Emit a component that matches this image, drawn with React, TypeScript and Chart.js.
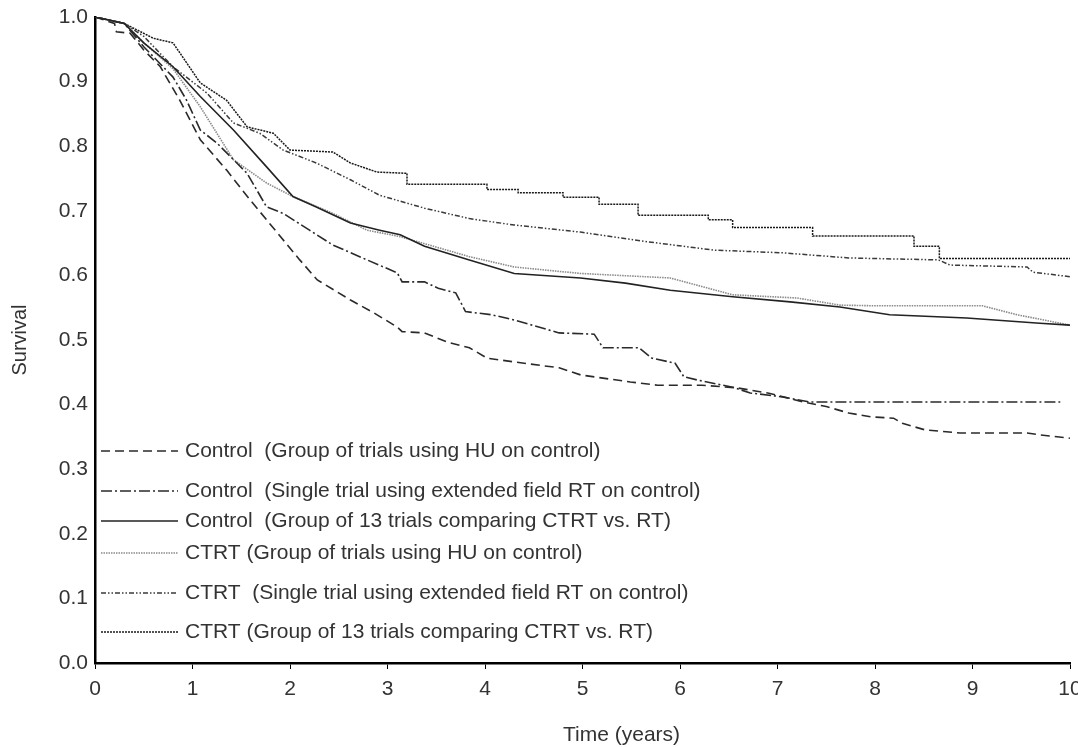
import React, { useEffect, useRef } from "react";
import { Chart, registerables } from "chart.js";

Chart.register(...registerables);

// ---- Data ----
const seriesLabels = [
  "Control  (Group of trials using HU on control)",
  "Control  (Single trial using extended field RT on control)",
  "Control  (Group of 13 trials comparing CTRT vs. RT)",
  "CTRT (Group of trials using HU on control)",
  "CTRT  (Single trial using extended field RT on control)",
  "CTRT (Group of 13 trials comparing CTRT vs. RT)",
];

const ctrlHuTime = [0, 0.2, 0.22, 0.36, 0.5, 0.67, 0.87, 1.08, 1.35, 1.59, 1.87, 2.1, 2.28, 2.62, 2.86, 3.1, 3.15, 3.38, 3.61, 3.84, 4.02, 4.3, 4.76, 4.98, 5.21, 5.49, 5.77, 6.22, 6.58, 6.9, 7.27, 7.5, 7.73, 7.96, 8.19, 8.28, 8.51, 8.87, 9.56, 9.7, 10];
const ctrlHuSurv = [1.0, 0.99, 0.977, 0.975, 0.949, 0.923, 0.871, 0.81, 0.763, 0.717, 0.666, 0.624, 0.593, 0.562, 0.542, 0.52, 0.513, 0.511, 0.497, 0.488, 0.472, 0.466, 0.457, 0.446, 0.441, 0.435, 0.43, 0.43, 0.426, 0.418, 0.404, 0.397, 0.387, 0.381, 0.379, 0.371, 0.361, 0.356, 0.356, 0.353, 0.348];

const ctrlSingleTime = [0, 0.3, 0.5, 0.8, 0.94, 1.08, 1.25, 1.56, 1.76, 1.93, 2.2, 2.44, 2.79, 3.1, 3.15, 3.38, 3.52, 3.7, 3.8, 4.07, 4.3, 4.76, 5.12, 5.21, 5.58, 5.71, 5.95, 6.04, 6.18, 6.54, 6.72, 7.05, 7.33, 9.9];
const ctrlSingleSurv = [1.0, 0.99, 0.954, 0.907, 0.871, 0.825, 0.805, 0.758, 0.706, 0.696, 0.67, 0.647, 0.624, 0.604, 0.59, 0.59, 0.58, 0.573, 0.544, 0.539, 0.531, 0.511, 0.509, 0.488, 0.488, 0.472, 0.464, 0.443, 0.438, 0.427, 0.418, 0.412, 0.404, 0.404];

const ctrl13Time = [0, 0.3, 0.5, 0.8, 1.08, 1.42, 1.76, 2.03, 2.27, 2.62, 2.92, 3.13, 3.38, 3.84, 4.3, 4.98, 5.44, 5.9, 6.54, 7.13, 7.64, 8.15, 8.94, 9.69, 10];
const ctrl13Surv = [1.0, 0.99, 0.96, 0.923, 0.877, 0.825, 0.768, 0.722, 0.706, 0.681, 0.67, 0.663, 0.645, 0.624, 0.603, 0.596, 0.588, 0.577, 0.567, 0.559, 0.551, 0.539, 0.534, 0.526, 0.523];

const ctrtHuTime = [0, 0.3, 0.5, 0.8, 1.08, 1.25, 1.42, 1.76, 2.03, 2.44, 2.79, 3.13, 3.84, 4.3, 4.98, 5.9, 6.54, 7.2, 7.64, 7.98, 9.1, 9.46, 10];
const ctrtHuSurv = [1.0, 0.99, 0.96, 0.92, 0.861, 0.82, 0.779, 0.743, 0.722, 0.696, 0.67, 0.66, 0.629, 0.613, 0.603, 0.596, 0.57, 0.565, 0.554, 0.553, 0.553, 0.539, 0.523];

const ctrtSingleTime = [0, 0.3, 0.5, 0.8, 1.15, 1.42, 1.69, 1.93, 2.27, 2.62, 2.92, 3.38, 3.84, 4.3, 4.98, 5.67, 6.36, 7.05, 7.73, 8.65, 8.77, 9.56, 9.62, 10];
const ctrtSingleSurv = [1.0, 0.99, 0.97, 0.923, 0.882, 0.836, 0.82, 0.794, 0.774, 0.748, 0.724, 0.704, 0.688, 0.678, 0.667, 0.652, 0.639, 0.635, 0.627, 0.624, 0.616, 0.613, 0.605, 0.598];

const ctrt13Time = [0, 0.3, 0.6, 0.8, 1.08, 1.35, 1.56, 1.83, 2.0, 2.44, 2.62, 2.89, 3.2, 3.2, 4.02, 4.02, 4.34, 4.34, 4.8, 4.8, 5.17, 5.17, 5.57, 5.57, 6.29, 6.29, 6.54, 6.54, 7.36, 7.36, 8.4, 8.4, 8.66, 8.66, 10];
const ctrt13Surv = [1.0, 0.99, 0.967, 0.96, 0.898, 0.871, 0.83, 0.82, 0.794, 0.791, 0.774, 0.76, 0.758, 0.741, 0.741, 0.733, 0.733, 0.728, 0.728, 0.721, 0.721, 0.71, 0.71, 0.693, 0.693, 0.686, 0.686, 0.674, 0.674, 0.661, 0.661, 0.645, 0.645, 0.626, 0.626];

const xTicks = [0, 1, 2, 3, 4, 5, 6, 7, 8, 9, 10];
const yTicks = [0, 0.1, 0.2, 0.3, 0.4, 0.5, 0.6, 0.7, 0.8, 0.9, 1.0];
const xTitle = "Time (years)";
const yTitle = "Survival";

// ---- Styling ----
const lineColors = ["#2a2a2a", "#2a2a2a", "#222222", "#8a8a8a", "#3a3a3a", "#1a1a1a"];
const lineDashes: number[][] = [[9, 5], [11, 3, 2, 3], [], [1.5, 1], [5, 2, 1.5, 2, 1.5, 2], [2, 1]];
const lineWidths = [1.6, 1.6, 1.6, 1.6, 1.5, 1.5];
const legendRowsY = [451, 491, 521, 553, 593, 632];

const TEXT = "#333333";
const FONT_FAMILY = "'Liberation Sans', Arial, sans-serif";
const FONT_SIZE = 21;

function toPoints(t: number[], s: number[]) {
  return t.map((x, i) => ({ x, y: s[i] }));
}

const legendPlugin = {
  id: "kmLegend",
  afterDatasetsDraw(chart: any) {
    const ctx = chart.ctx as CanvasRenderingContext2D;
    ctx.save();
    seriesLabels.forEach((label, i) => {
      const y = legendRowsY[i];
      ctx.beginPath();
      ctx.setLineDash(lineDashes[i]);
      ctx.strokeStyle = lineColors[i];
      ctx.lineWidth = lineWidths[i];
      ctx.moveTo(101, y);
      ctx.lineTo(178, y);
      ctx.stroke();
      ctx.setLineDash([]);
      ctx.fillStyle = TEXT;
      ctx.font = `${FONT_SIZE}px ${FONT_FAMILY}`;
      ctx.textBaseline = "middle";
      ctx.textAlign = "left";
      ctx.fillText(label, 185, y);
    });
    // x-axis title (sits right of the axis centre in the reference)
    const xs = chart.scales.x;
    ctx.font = `${FONT_SIZE}px ${FONT_FAMILY}`;
    ctx.fillStyle = TEXT;
    ctx.textAlign = "left";
    ctx.textBaseline = "middle";
    ctx.fillText(xTitle, xs.getPixelForValue(4.8), 735);
    ctx.restore();
  },
};

export default function App() {
  const canvasRef = useRef<HTMLCanvasElement | null>(null);

  useEffect(() => {
    document.body.style.margin = "0";
    const canvas = canvasRef.current;
    if (!canvas) return;
    const allT = [ctrlHuTime, ctrlSingleTime, ctrl13Time, ctrtHuTime, ctrtSingleTime, ctrt13Time];
    const allS = [ctrlHuSurv, ctrlSingleSurv, ctrl13Surv, ctrtHuSurv, ctrtSingleSurv, ctrt13Surv];
    const chart = new Chart(canvas, {
      type: "line",
      data: {
        datasets: seriesLabels.map((label, i) => ({
          label,
          data: toPoints(allT[i], allS[i]),
          borderColor: lineColors[i],
          borderWidth: lineWidths[i],
          borderDash: lineDashes[i],
          pointRadius: 0,
          fill: false,
          tension: 0,
        })),
      },
      options: {
        animation: false,
        responsive: false,
        maintainAspectRatio: false,
        devicePixelRatio: 1,
        layout: { padding: { top: 17, right: 8, left: 0, bottom: 0 } },
        plugins: {
          legend: { display: false },
          tooltip: { enabled: false },
        },
        scales: {
          x: {
            type: "linear",
            min: 0,
            max: 10,
            afterBuildTicks(scale: any) {
              scale.ticks = xTicks.map((v) => ({ value: v }));
            },
            afterFit(scale: any) {
              scale.height = 84;
              scale.paddingRight = 0;
              scale.paddingLeft = 0;
            },
            grid: {
              drawOnChartArea: false,
              drawTicks: true,
              tickLength: 6,
              tickWidth: 1,
              color: "#000",
            },
            border: { display: true, color: "#000", width: 2.5 },
            ticks: {
              color: TEXT,
              font: { family: FONT_FAMILY, size: FONT_SIZE },
              padding: 8,
              maxRotation: 0,
              callback: (v: any) => String(v),
            },
            title: { display: false },
          },
          y: {
            type: "linear",
            min: 0,
            max: 1,
            afterBuildTicks(scale: any) {
              scale.ticks = yTicks.map((v) => ({ value: v }));
            },
            afterFit(scale: any) {
              scale.width = 95;
              scale.paddingTop = 0;
              scale.paddingBottom = 0;
            },
            grid: {
              drawOnChartArea: false,
              drawTicks: false,
              color: "#000",
            },
            border: { display: true, color: "#000", width: 2.5 },
            ticks: {
              color: TEXT,
              font: { family: FONT_FAMILY, size: FONT_SIZE },
              padding: 7,
              callback: (v: any) => Number(v).toFixed(1),
            },
            title: {
              display: true,
              text: yTitle,
              color: TEXT,
              font: { family: FONT_FAMILY, size: 20 },
              padding: { top: 8, bottom: 0 },
            },
          },
        },
      },
      plugins: [legendPlugin],
    });
    return () => chart.destroy();
  }, []);

  return (
    <div style={{ position: "absolute", left: 0, top: 0, width: 1078, height: 747, background: "#fff" }}>
      <canvas ref={canvasRef} width={1078} height={747} style={{ width: 1078, height: 747 }} />
    </div>
  );
}
